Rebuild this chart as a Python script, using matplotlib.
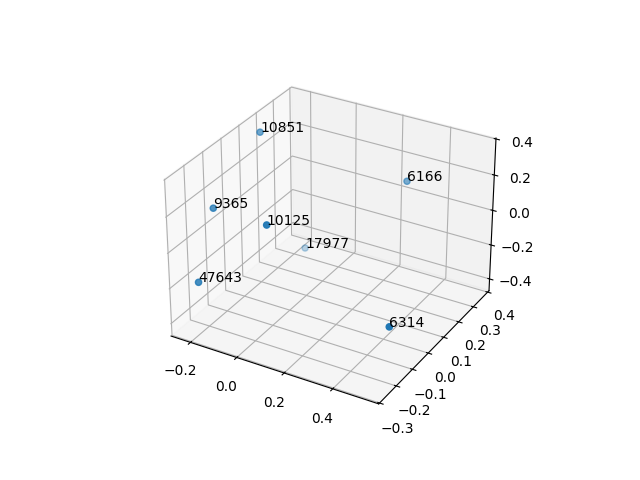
import numpy as np
import matplotlib
matplotlib.use("Agg")
import matplotlib.pyplot as plt

# point labels and their 3d coordinates
labels = ["47643", "9365", "10851", "10125", "17977", "6166", "6314"]
xs = [-0.181, -0.228, -0.2295, 0.043, -0.169, 0.2595, 0.532]
ys = [-0.2725, -0.1235, 0.1475, -0.1805, 0.3265, 0.3525, -0.167]
zs = [-0.146, 0.129, 0.348, 0.184, -0.444, 0.091, -0.191]

fig = plt.figure(figsize=(6.4, 4.8), dpi=100)
ax = fig.add_subplot(projection='3d')

ax.scatter(xs, ys, zs)
for x, y, z, lab in zip(xs, ys, zs, labels):
    ax.text(x, y, z, lab)

ax.set_xlim(-0.285, 0.585)
ax.set_ylim(-0.305, 0.41)
ax.set_zlim(-0.47, 0.405)

plt.savefig('out.png')
